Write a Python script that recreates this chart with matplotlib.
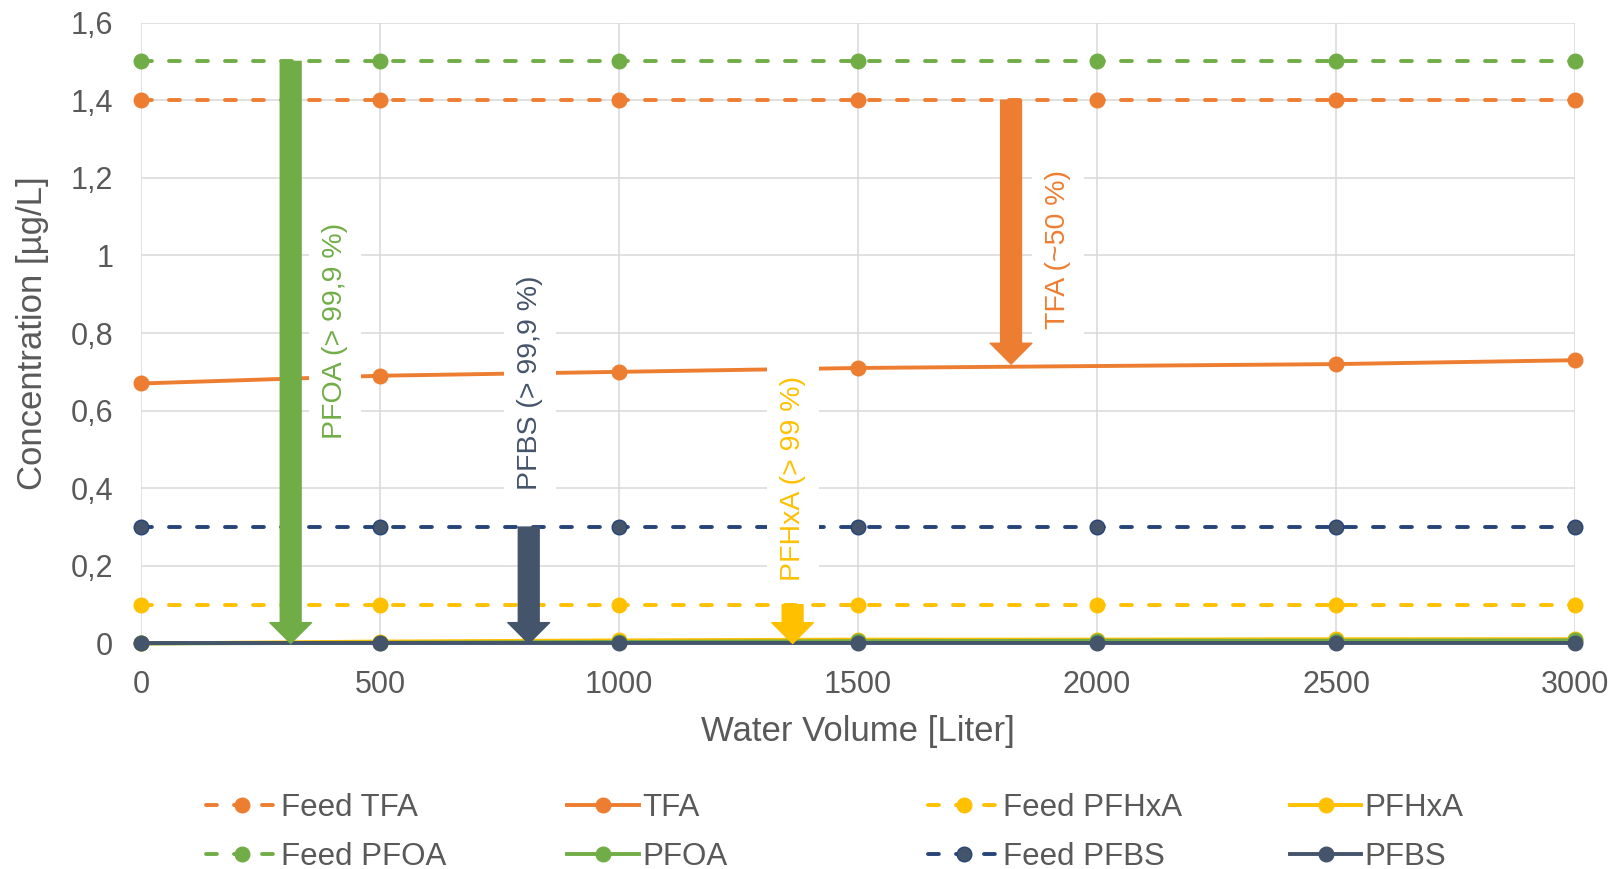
import matplotlib
matplotlib.use("Agg")
import matplotlib.pyplot as plt
from matplotlib.ticker import FuncFormatter

plt.rcParams['font.family'] = ['Liberation Sans', 'DejaVu Sans']

# data
volume = [0, 500, 1000, 1500, 2000, 2500, 3000]
volume_tfa = [0, 500, 1000, 1500, 2500, 3000]

feed_tfa = [1.4, 1.4, 1.4, 1.4, 1.4, 1.4, 1.4]
feed_pfoa = [1.5, 1.5, 1.5, 1.5, 1.5, 1.5, 1.5]
feed_pfbs = [0.3, 0.3, 0.3, 0.3, 0.3, 0.3, 0.3]
feed_pfhxa = [0.1, 0.1, 0.1, 0.1, 0.1, 0.1, 0.1]

tfa = [0.67, 0.69, 0.70, 0.71, 0.72, 0.73]
pfhxa = [0.0, 0.005, 0.008, 0.010, 0.010, 0.011, 0.011]
pfoa = [0.0, 0.002, 0.004, 0.006, 0.007, 0.007, 0.008]
pfbs = [0.0, 0.0, 0.0, 0.0, 0.0, 0.0, 0.0]

# removal arrows: x position, start value, end value, label, label position
arrow_x = [313, 811, 1363, 1820]
arrow_from = [1.5, 0.3, 0.1, 1.4]
arrow_to = [0.0, 0.0, 0.0, 0.72]
arrow_text = ["PFOA (> 99,9 %)", "PFBS (> 99,9 %)", "PFHxA (> 99 %)", "TFA (~50 %)"]
text_x = [406, 814, 1364, 1918]
text_y = [0.805, 0.673, 0.425, 1.016]

c_tfa = "#ED7D31"
c_pfoa = "#70AD47"
c_pfhxa = "#FFC000"
c_pfbs = "#44546A"
c_pfbs_feed = "#264478"
arrow_colors = [c_pfoa, c_pfbs, c_pfhxa, c_tfa]
txt_color = "#595959"

fig = plt.figure(figsize=(16.14, 8.69), dpi=100)
ax = fig.add_axes([0.0874, 0.2595, 0.8885, 0.7145])

lw = 2.8
ms = 10.5
dash = (2.8, 4.4)

def feed_line(y, col, label, edge=None):
    ln, = ax.plot(volume, y, color=col, lw=lw, marker="o", ms=ms,
                  mfc=col if edge is None else c_pfbs, mec=col,
                  dashes=dash, dash_capstyle="round", label=label, clip_on=False)
    return ln

h = {}
h["Feed TFA"] = feed_line(feed_tfa, c_tfa, "Feed TFA")
h["TFA"], = ax.plot(volume_tfa, tfa, color=c_tfa, lw=lw, marker="o", ms=ms,
                    label="TFA", clip_on=False)
h["Feed PFHxA"] = feed_line(feed_pfhxa, c_pfhxa, "Feed PFHxA")
h["Feed PFOA"] = feed_line(feed_pfoa, c_pfoa, "Feed PFOA")
h["Feed PFBS"] = feed_line(feed_pfbs, c_pfbs_feed, "Feed PFBS", edge=True)
h["PFHxA"], = ax.plot(volume, pfhxa, color=c_pfhxa, lw=lw, marker="o", ms=ms,
                      label="PFHxA", clip_on=False)
h["PFOA"], = ax.plot(volume, pfoa, color=c_pfoa, lw=lw, marker="o", ms=ms,
                     label="PFOA", clip_on=False)
h["PFBS"], = ax.plot(volume, pfbs, color=c_pfbs, lw=lw, marker="o", ms=ms,
                     label="PFBS", clip_on=False)

# arrows and their labels
for x, y0, y1, col in zip(arrow_x, arrow_from, arrow_to, arrow_colors):
    ax.annotate("", xy=(x, y1), xytext=(x, y0),
                arrowprops=dict(arrowstyle="simple,head_length=15,head_width=30,tail_width=15",
                                mutation_scale=1, color=col, shrinkA=0, shrinkB=0),
                zorder=5)
for x, y, s, col in zip(text_x, text_y, arrow_text, arrow_colors):
    ax.text(x, y, s, rotation=90, ha="center", va="center", color=col, fontsize=20.5,
            bbox=dict(boxstyle="square,pad=0.45", fc="white", ec="none"), zorder=4)

ax.set_xlim(0, 3000)
ax.set_ylim(0, 1.6)
ax.set_xticks(volume)
ax.set_yticks([0, 0.2, 0.4, 0.6, 0.8, 1.0, 1.2, 1.4, 1.6])
ax.yaxis.set_major_formatter(FuncFormatter(lambda v, p: f"{v:g}".replace(".", ",")))
ax.tick_params(length=0, labelsize=22, labelcolor=txt_color)
ax.tick_params(axis="x", pad=19)
ax.tick_params(axis="y", pad=20)
ax.grid(True, color="#D9D9D9", lw=1.1)
ax.set_axisbelow(True)
for sp in ax.spines.values():
    sp.set_visible(False)

ax.set_xlabel("Water Volume [Liter]", fontsize=25, color=txt_color)
ax.set_ylabel("Concentration [µg/L]", fontsize=25, color=txt_color)
ax.xaxis.set_label_coords(0.5, -0.115)
ax.yaxis.set_label_coords(-0.064, 0.5)

# legend: four fixed-width columns like the spreadsheet legend
columns = [["Feed TFA", "Feed PFOA"], ["TFA", "PFOA"],
           ["Feed PFHxA", "Feed PFBS"], ["PFHxA", "PFBS"]]
col_x = [0.1276, 0.3513, 0.575, 0.799]
for names, x in zip(columns, col_x):
    leg = fig.legend([h[n] for n in names], names, loc="center left",
                     bbox_to_anchor=(x, 0.042), frameon=False, fontsize=22.5,
                     handlelength=2.3, handletextpad=0.1, labelspacing=0.61,
                     borderpad=0, borderaxespad=0)
    for t in leg.get_texts():
        t.set_color(txt_color)

fig.savefig("out.png", dpi=100)
